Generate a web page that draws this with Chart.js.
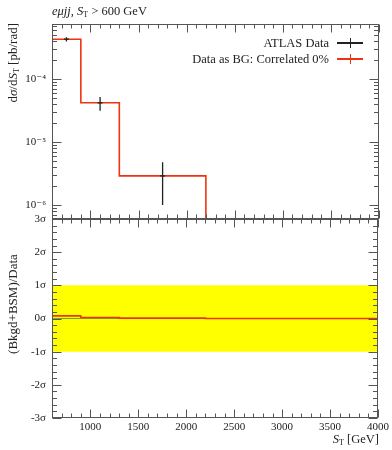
<!DOCTYPE html>
<html>
<head>
<meta charset="utf-8">
<script src="https://cdn.jsdelivr.net/npm/chart.js@4.4.1/dist/chart.umd.min.js"></script>
<style>
  body { margin: 0; background: #fff; }
  #wrap { position: relative; width: 392px; height: 450px; font-family: "Liberation Serif", "DejaVu Serif", serif; color: #222; }
  canvas { position: absolute; left: 0; top: 0; }
  .txt { position: absolute; white-space: nowrap; font-size: 12.5px; line-height: 14px; }
  .txt sub { font-size: 8px; vertical-align: -2px; line-height: 0; }
  .rot { transform-origin: 0 0; transform: rotate(-90deg); font-size: 13px; }
  .sym { position: absolute; width: 26px; height: 10px; }
  .sym .h { position: absolute; left: 0; top: 4px; width: 26px; height: 1.5px; }
  .sym .v { position: absolute; left: 12.5px; top: 0; width: 1.3px; height: 10px; }
</style>
</head>
<body>
<div id="wrap">
  <canvas id="bottomChart" width="392" height="450"></canvas>
  <canvas id="topChart" width="392" height="450"></canvas>

  <div class="txt" style="left:52px; top:4px;"><i>eμjj</i>, <i>S</i><sub>T</sub> &gt; 600 GeV</div>

  <div class="txt rot" style="left:6px; top:175px; width:152px; text-align:right;">d<i>σ</i>/d<i>S</i><sub>T</sub> [pb/rad]</div>
  <div class="txt rot" style="left:6px; top:404px; width:200px; text-align:center;">(Bkgd+BSM)/Data</div>
  <div class="txt" style="right:13px; top:432px;"><i>S</i><sub>T</sub> [GeV]</div>

  <div class="txt" style="right:63px; top:36px;">ATLAS Data</div>
  <div class="sym" style="left:337px; top:38px;"><div class="h" style="background:#222"></div><div class="v" style="background:#222"></div></div>
  <div class="txt" style="right:63px; top:52px;">Data as BG: Correlated 0%</div>
  <div class="sym" style="left:337px; top:54px;"><div class="h" style="background:#ee3311"></div><div class="v" style="background:#ee3311"></div></div>
</div>

<script>
// bins of the S_T distribution [GeV]
const binEdges = [600, 900, 1300, 2200, 4000];
// Data as BG prediction per bin [pb/rad]
const bgValues = [4.3e-4, 4.2e-5, 2.9e-6, 0];
// ATLAS data points
const dataX = [750, 1100, 1750];
const dataY = [4.3e-4, 4.2e-5, 2.9e-6];
const dataLo = [3.97e-4, 3.15e-5, 1.0e-6];
const dataHi = [4.6e-4, 5.2e-5, 4.8e-6];
// (Bkgd+BSM)/Data significance per bin
const ratioValues = [0.08, 0.03, 0.01, 0.0];
const bandLo = -1;
const bandHi = 1;

// axes
const xMin = 600, xMax = 4000;
const topMin = 6e-7, topMax = 7.5e-4;
const sigmaMin = -3, sigmaMax = 3;
const xTicks = [1000, 1500, 2000, 2500, 3000, 3500, 4000];
const topTicks = [1e-6, 1e-5, 1e-4];
const sigmaTicks = [-3, -2, -1, 0, 1, 2, 3];

const RED = "#ee3311";
const INK = "#222";
const FONT = { family: '"Liberation Serif", "DejaVu Serif", serif', size: 11 };

const supMap = { "-": "\u207b", "0": "\u2070", "1": "\u00b9", "2": "\u00b2", "3": "\u00b3", "4": "\u2074", "5": "\u2075", "6": "\u2076", "7": "\u2077", "8": "\u2078", "9": "\u2079" };
function powerLabel(v) {
  const e = Math.round(Math.log10(v));
  return "10" + String(e).split("").map((c) => supMap[c]).join("");
}

// histogram outline: one point per lower bin edge, closed at the last edge
function stepPoints(values, floor) {
  const pts = values.map((v, i) => ({ x: binEdges[i], y: floor === undefined ? v : Math.max(v, floor) }));
  const last = pts[pts.length - 1];
  pts.push({ x: binEdges[binEdges.length - 1], y: last.y });
  return pts;
}

// inward tick marks and the frame, Rivet style
function framePlugin(yTickList) {
  return {
    id: "frame",
    afterDatasetsDraw(chart) {
      const { ctx, chartArea: a, scales } = chart;
      const L = Math.round(a.left) + 0.5;
      const R = Math.round(a.right) - 0.5;
      const T = Math.round(a.top) + 0.5;
      const B = Math.round(a.bottom) - 0.5;
      ctx.save();
      ctx.strokeStyle = "#555";
      ctx.lineWidth = 1;
      ctx.strokeRect(L, T, R - L, B - T);
      ctx.beginPath();
      for (let v = xMin; v <= xMax; v += 100) {
        const px = Math.round(scales.x.getPixelForValue(v)) + 0.5;
        const len = v % 500 === 0 ? 8 : 4;
        ctx.moveTo(px, T); ctx.lineTo(px, T + len);
        ctx.moveTo(px, B); ctx.lineTo(px, B - len);
      }
      yTickList.forEach(([v, major]) => {
        const py = Math.round(scales.y.getPixelForValue(v)) + 0.5;
        if (py < a.top - 0.5 || py > a.bottom + 0.5) return;
        const len = major ? 9 : 4.5;
        ctx.moveTo(L, py); ctx.lineTo(L + len, py);
        ctx.moveTo(R, py); ctx.lineTo(R - len, py);
      });
      ctx.stroke();
      ctx.restore();
    },
  };
}

const errorBarPlugin = {
  id: "errorBars",
  afterDatasetsDraw(chart) {
    const { ctx, scales } = chart;
    ctx.save();
    ctx.strokeStyle = INK;
    ctx.lineWidth = 1.3;
    ctx.beginPath();
    dataX.forEach((x, i) => {
      const px = scales.x.getPixelForValue(x);
      const py = scales.y.getPixelForValue(dataY[i]);
      ctx.moveTo(px, scales.y.getPixelForValue(dataHi[i]));
      ctx.lineTo(px, scales.y.getPixelForValue(dataLo[i]));
      ctx.moveTo(px - 2.5, py);
      ctx.lineTo(px + 2.5, py);
    });
    ctx.stroke();
    ctx.restore();
  },
};

const topTickList = [];
for (let e = -7; e <= -3; e++) {
  for (let k = 1; k <= 9; k++) {
    const v = k * Math.pow(10, e);
    if (v >= topMin && v <= topMax) topTickList.push([v, k === 1]);
  }
}
const sigmaTickList = [];
for (let i = sigmaMin * 5; i <= sigmaMax * 5; i++) sigmaTickList.push([i / 5, i % 5 === 0]);

function yAxis(extra) {
  return Object.assign({
    grid: { display: false, drawTicks: false },
    border: { display: false },
    afterFit: (scale) => { scale.width = 52; },
  }, extra);
}

new Chart(document.getElementById("topChart"), {
  type: "line",
  data: {
    datasets: [
      {
        label: "Data as BG: Correlated 0%",
        data: stepPoints(bgValues, 1e-12),
        stepped: "before",
        borderColor: RED,
        borderWidth: 1.6,
        pointRadius: 0,
        fill: false,
      },
      {
        label: "ATLAS Data",
        type: "scatter",
        data: dataX.map((x, i) => ({ x, y: dataY[i] })),
        pointRadius: 0,
      },
    ],
  },
  options: {
    responsive: false,
    animation: false,
    layout: { padding: { top: 24, right: 13, bottom: 231, left: 0 } },
    plugins: { legend: { display: false }, tooltip: { enabled: false } },
    scales: {
      x: { type: "linear", min: xMin, max: xMax, display: false },
      y: yAxis({
        type: "logarithmic",
        min: topMin,
        max: topMax,
        afterBuildTicks: (scale) => { scale.ticks = topTicks.map((value) => ({ value })); },
        ticks: { font: FONT, color: INK, padding: 6, autoSkip: false, maxRotation: 0, callback: (v) => powerLabel(v) },
      }),
    },
  },
  plugins: [framePlugin(topTickList), errorBarPlugin],
});

new Chart(document.getElementById("bottomChart"), {
  type: "line",
  data: {
    datasets: [
      {
        label: "Data as BG: Correlated 0%",
        data: stepPoints(ratioValues),
        stepped: "before",
        borderColor: RED,
        borderWidth: 1.6,
        pointRadius: 0,
        fill: false,
      },
      {
        label: "Data",
        data: binEdges.slice(0, dataX.length + 1).map((x) => ({ x, y: 0 })),
        borderColor: "rgba(70, 150, 40, 0.8)",
        borderWidth: 1,
        pointRadius: 0,
        fill: false,
      },
      {
        label: "1 sigma",
        data: [{ x: xMin, y: bandHi }, { x: xMax, y: bandHi }],
        borderWidth: 0,
        borderColor: "rgba(0,0,0,0)",
        pointRadius: 0,
        backgroundColor: "#ffff00",
        fill: { value: bandLo },
      },
    ],
  },
  options: {
    responsive: false,
    animation: false,
    layout: { padding: { top: 219, right: 13, bottom: 0, left: 0 } },
    plugins: { legend: { display: false }, tooltip: { enabled: false } },
    scales: {
      x: {
        type: "linear",
        min: xMin,
        max: xMax,
        grid: { display: false, drawTicks: false },
        border: { display: false },
        afterBuildTicks: (scale) => { scale.ticks = xTicks.map((value) => ({ value })); },
        afterFit: (scale) => { scale.height = 32; },
        ticks: { font: FONT, color: INK, padding: 3, autoSkip: false, maxRotation: 0, callback: (v) => String(v) },
      },
      y: yAxis({
        type: "linear",
        min: sigmaMin,
        max: sigmaMax,
        afterBuildTicks: (scale) => { scale.ticks = sigmaTicks.map((value) => ({ value })); },
        ticks: { font: FONT, color: INK, padding: 6, autoSkip: false, maxRotation: 0, callback: (v) => `${v}σ` },
      }),
    },
  },
  plugins: [framePlugin(sigmaTickList)],
});
</script>
</body>
</html>
